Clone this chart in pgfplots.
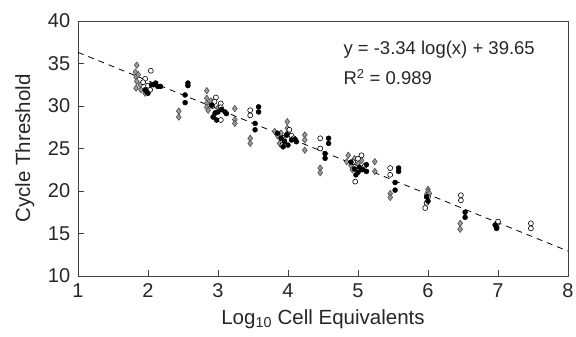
\documentclass[border=0pt]{standalone}
\usepackage{fontspec}
\setmainfont{Liberation Sans}
\usepackage{pgfplots}
\pgfplotsset{compat=1.18}
\begin{document}
\fontsize{20}{24}\selectfont
\begin{tikzpicture}
\begin{axis}[
 scale only axis, width=490pt, height=255pt,
 xmin=1,xmax=8,ymin=10,ymax=40,
 xtick={1,...,8}, ytick={10,15,...,40},
 tick align=inside, xtick pos=bottom, ytick pos=left,
 major tick length=6pt,
 axis line style={draw=black!75, line width=0.8pt},
 tick style={black!75, line width=0.8pt},
 /pgf/number format/assume math mode=true,
 tick label style={font=\fontsize{20}{24}\selectfont, text=black!85},
 xticklabel style={yshift=-1pt},
 yticklabel style={xshift=-1pt},
 label style={font=\fontsize{20.5}{24}\selectfont, text=black!85},
 xlabel={Log\textsubscript{10} Cell Equivalents},
 ylabel={Cycle Threshold},
 xlabel style={yshift=2pt},
]
\addplot[black, line width=0.8pt, dash pattern=on 6pt off 5pt] coordinates {(1,36.31) (8,12.93)};
% diamonds
\addplot[only marks, mark=diamond*, mark size=3.2pt, mark options={fill=black!40, draw=black!75, line width=0.5pt}] coordinates {
(1.84,34.8)(1.82,34.0)(1.83,33.4)(1.84,32.9)(1.83,32.1)(1.89,32.5)(1.96,31.5)(1.86,33.7)(1.9,31.9)
(2.44,29.4)(2.44,28.7)
(2.84,31.8)(2.84,30.9)(2.84,30.3)(2.84,29.85)(2.86,29.5)(2.9,30.6)(2.95,29.0)(3.0,29.8)
(3.24,29.7)(3.24,28.4)(3.24,27.95)
(3.46,26.2)(3.46,25.6)
(3.99,28.15)(3.99,27.4)(3.81,27.0)(3.85,26.5)(3.9,26.8)(3.95,26.0)(4.0,26.9)(3.88,25.6)
(4.24,26.6)(4.24,26.0)(4.24,24.8)
(4.46,22.7)(4.46,22.15)
(4.86,24.2)(4.84,23.45)(4.9,23.0)(4.95,23.8)(5.0,23.2)(4.92,22.5)(5.05,23.6)
(5.24,23.45)(5.24,22.3)
(5.46,19.7)(5.46,19.25)
(6.0,20.2)(6.0,19.9)(5.98,19.5)(6.02,19.7)
(6.46,16.2)(6.46,15.5)
(6.96,16.0)(7.0,16.2)(6.98,15.8)
};
% open circles
\addplot[only marks, mark=*, mark size=2.5pt, mark options={fill=white, draw=black, line width=0.6pt}] coordinates {
(2.04,34.15)(1.96,33.2)(2.03,31.9)(1.93,32.8)(2.0,32.4)(1.98,31.7)
(2.97,31.0)(3.04,30.3)(3.04,29.85)(3.04,28.35)(2.92,30.0)(2.95,30.5)
(3.46,29.5)(3.46,28.9)
(3.99,26.6)(4.05,26.5)(3.92,25.4)(4.02,27.2)(4.08,26.2)
(4.46,26.2)(4.46,25.0)
(5.05,24.2)(5.0,23.8)(4.96,21.1)(4.93,23.4)(5.1,23.0)
(5.46,22.7)(5.46,21.9)
(5.96,18.0)(5.98,18.6)(6.0,19.3)
(6.47,19.5)(6.47,18.9)
(7.0,16.4)(6.98,15.7)
(7.47,16.2)(7.47,15.6)
};
% filled circles
\addplot[only marks, mark=*, mark size=2.5pt, mark options={fill=black, draw=black}] coordinates {
(2.08,32.5)(2.05,32.5)(2.11,32.7)(1.96,31.9)(2.0,31.5)(2.14,32.3)(2.18,32.3)
(2.57,32.7)(2.57,32.4)(2.53,31.3)(2.53,30.4)
(2.91,30.1)(2.96,29.2)(3.0,29.3)(3.1,29.3)(3.12,29.1)(2.93,28.7)(2.98,28.35)(3.05,29.6)
(3.58,29.9)(3.58,29.3)(3.53,27.95)(3.53,27.2)
(3.85,26.8)(3.9,26.2)(3.95,25.8)(4.0,25.4)(3.93,25.2)(4.05,26.0)(4.12,25.8)(4.1,26.1)(3.98,26.6)
(4.58,26.2)(4.58,25.6)(4.53,24.4)(4.53,23.85)
(4.9,23.4)(4.95,22.6)(5.0,22.2)(4.97,21.9)(5.02,22.8)(5.12,23.1)(5.12,22.3)(5.06,22.5)
(5.58,22.7)(5.58,22.3)(5.53,21.0)(5.53,20.1)
(5.98,19.3)(6.0,18.8)
(6.53,17.5)(6.53,16.9)
(6.96,16.0)(6.98,15.6)
};
\node[anchor=base west, inner sep=0pt, font=\fontsize{18.5}{22}\selectfont, text=black!85] at (axis cs:4.79,36.1) {y = -3.34 log(x) + 39.65};
\node[anchor=base west, inner sep=0pt, font=\fontsize{18.5}{22}\selectfont, text=black!85] at (axis cs:4.79,32.5) {R\textsuperscript{2} = 0.989};
\end{axis}
\pgfresetboundingbox
\path[use as bounding box] (-78pt,-61pt) rectangle (498pt,276pt);
\end{tikzpicture}
\end{document}
